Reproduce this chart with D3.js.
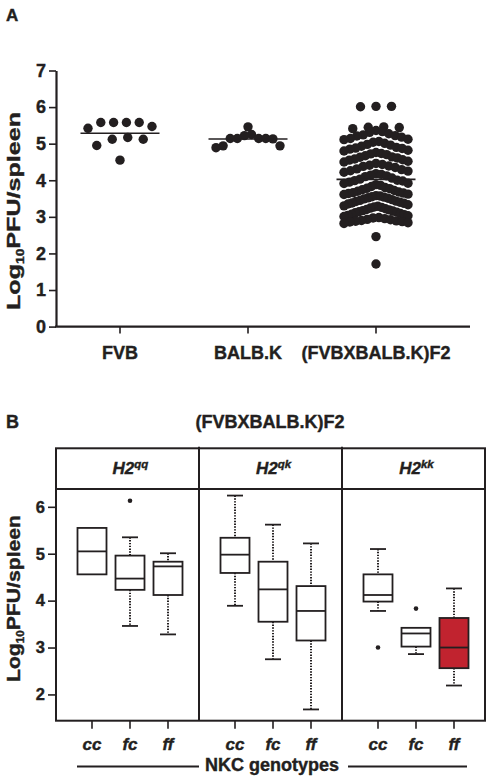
<!DOCTYPE html>
<html>
<head>
<meta charset="utf-8">
<script src="https://cdn.jsdelivr.net/npm/d3@7"></script>
<style>
  html, body { margin: 0; padding: 0; background: #fff; }
  svg { display: block; }
  text { font-family: "Liberation Sans", Arial, Helvetica, sans-serif; fill: #231f20; stroke: #231f20; stroke-width: 0.4px; }
</style>
</head>
<body>
<script>
// ---------------- Panel A data ----------------
const catsA = ["FVB", "BALB.K", "(FVBXBALB.K)F2"];
const yTicksA = [0, 1, 2, 3, 4, 5, 6, 7];
const fvb = [5.58, 5.58, 5.58, 5.58, 5.47, 5.42, 5.17, 5.12, 5.12, 4.95, 4.55];
const balbk = [5.46, 5.25, 5.22, 5.14, 5.14, 5.14, 5.14, 5.13, 4.94, 4.94, 4.89];
const f2 = [6.02, 6.01, 6.02,
  5.46, 5.44, 5.41, 5.45, 5.36, 5.31, 5.33, 5.27, 5.24, 5.21, 5.18, 5.22,
  5.14, 5.11, 5.12, 5.04, 5.01, 5.06, 4.98, 4.96, 4.93, 4.9, 4.87, 4.85,
  4.82, 4.88, 4.76, 4.8, 4.73, 4.7, 4.67, 4.72, 4.63, 4.61, 4.58, 4.64, 4.55,
  4.52, 4.5, 4.56, 4.46, 4.43, 4.41, 4.38, 4.35, 4.39, 4.31, 4.29, 4.26, 4.22, 4.25,
  4.18, 4.16, 4.12, 4.1, 4.14, 4.06, 4.03, 4.0, 3.98, 3.95, 3.99, 3.91, 3.88, 3.86,
  3.92, 3.83, 3.8, 3.77, 3.74, 3.78, 3.7, 3.68, 3.65, 3.61, 3.66, 3.58, 3.55, 3.52,
  3.49, 3.54, 3.45, 3.42, 3.4, 3.37, 3.43, 3.33, 3.3, 3.27, 3.24, 3.29, 3.2, 3.17,
  3.14, 3.11, 3.16, 3.07, 3.04, 3.01, 2.98, 3.03, 2.95, 2.92, 2.89, 2.86, 2.9, 2.84,
  2.82, 3.72, 3.57, 3.35, 3.22, 3.09, 2.97, 2.88, 3.47, 3.62, 2.93,
  3.13, 3.26, 3.38, 3.51, 3.64, 2.87, 3.06, 3.19, 2.46, 1.71];
const groupsA = [fvb, balbk, f2];

// ---------------- Panel B data ----------------
const facetsB = ["qq", "qk", "kk"];          // H2 haplotype superscripts
const genotypesB = ["cc", "fc", "ff"];       // NKC genotypes
const yTicksB = [2, 3, 4, 5, 6];
// order: qq-cc, qq-fc, qq-ff, qk-cc, qk-fc, qk-ff, kk-cc, kk-fc, kk-ff
const whiskLo = [4.56, 3.46, 3.28, 3.89, 2.75, 1.68, 3.78, 2.86, 2.19];
const q1      = [4.56, 4.23, 4.12, 4.59, 3.55, 3.15, 3.98, 3.02, 2.56];
const med     = [5.05, 4.47, 4.73, 4.98, 4.24, 3.78, 4.12, 3.30, 3.00];
const q3      = [5.55, 4.96, 4.83, 5.34, 4.83, 4.31, 4.56, 3.42, 3.63];
const whiskHi = [5.55, 5.35, 5.01, 6.24, 5.62, 5.22, 5.10, 3.42, 4.26];
const outliers = [[], [6.13], [], [], [], [], [3.00], [3.83], []];

// ---------------- drawing ----------------
(function () {
const W = 490, H = 779;
const ink = "#231f20";
const svg = d3.select("body").append("svg").attr("width", W).attr("height", H);

function yTitle(x, cy, target, size) {
  const g = svg.append("g");
  const t = g.append("text").attr("text-anchor", "middle")
    .style("font-size", size + "px").style("font-weight", "bold");
  t.append("tspan").text("Log");
  t.append("tspan").text("10").attr("dy", 4).style("font-size", (size * 0.55) + "px");
  t.append("tspan").text("PFU/spleen").attr("dy", -4);
  const len = t.node().getComputedTextLength();
  g.attr("transform", `translate(${x},${cy}) rotate(-90) scale(${target / len},1)`);
}

// ===== Panel A =====
svg.append("text").attr("x", 6).attr("y", 20.5).text("A")
  .style("font-size", "17px").style("font-weight", "bold");

const yA = d3.scaleLinear().domain([0, 7]).range([326.6, 70.5]);
const xA = d3.scaleBand().domain(catsA).range([56, 440]);
const cA = c => xA(c) + xA.bandwidth() / 2;

const gyA = svg.append("g").attr("transform", "translate(56,0)")
  .call(d3.axisLeft(yA).tickValues(yTicksA).tickFormat(d3.format("d"))
    .tickSize(7).tickSizeOuter(0).tickPadding(3));
gyA.select(".domain").attr("stroke", ink).attr("stroke-width", 2.2);
gyA.selectAll(".tick line").attr("stroke", ink).attr("stroke-width", 1.6);
gyA.selectAll(".tick text").attr("fill", ink).style("font-size", "18px")
  .style("font-weight", "bold").style("font-family", "Liberation Sans, Arial, sans-serif");

const gxA = svg.append("g").attr("transform", "translate(0,326.6)")
  .call(d3.axisBottom(xA).tickSize(7).tickSizeOuter(0).tickPadding(13));
gxA.select(".domain").remove();
gxA.selectAll(".tick line").attr("stroke", ink).attr("stroke-width", 1.6);
gxA.selectAll(".tick text").attr("fill", ink).style("font-size", "18px")
  .style("font-weight", "bold").style("font-family", "Liberation Sans, Arial, sans-serif");
svg.append("line").attr("x1", 55).attr("x2", 470).attr("y1", 326.6).attr("y2", 326.6)
  .attr("stroke", ink).attr("stroke-width", 2.2);

yTitle(20, 211, 198, 19);

// Prism-like scatter layout: bin by value, sort bin descending, place centre-out
function swarm(values, binH, s0, maxW) {
  const bins = d3.group(values, v => Math.floor(v / binH + 1e-9));
  const out = [];
  for (const [, arr] of bins) {
    const s = arr.slice().sort((a, b) => b - a);
    const n = s.length;
    const sp = n > 1 ? Math.min(s0, maxW / (n - 1)) : 0;
    s.forEach((v, i) => {
      let off;
      if (n % 2 === 0) off = (i % 2 === 0 ? 1 : -1) * (Math.floor(i / 2) + 0.5) * sp;
      else off = i === 0 ? 0 : (i % 2 === 1 ? 1 : -1) * Math.ceil(i / 2) * sp;
      out.push({ v, dx: off });
    });
  }
  return out;
}

const binHeights = [0.6, 0.6, 0.3];
groupsA.forEach((vals, gi) => {
  const cx = cA(catsA[gi]);
  const pts = swarm(vals, binHeights[gi], 15.5, 64);
  svg.append("g").selectAll("circle").data(pts).join("circle")
    .attr("cx", d => cx + d.dx).attr("cy", d => yA(d.v)).attr("r", 4.7).attr("fill", ink);
  const m = d3.mean(vals);
  svg.append("line").attr("x1", cx - 39.5).attr("x2", cx + 39.5)
    .attr("y1", yA(m)).attr("y2", yA(m)).attr("stroke", ink).attr("stroke-width", 1.6);
});

// ===== Panel B =====
svg.append("text").attr("x", 6).attr("y", 427.5).text("B")
  .style("font-size", "18px").style("font-weight", "bold");
svg.append("text").attr("x", 270).attr("y", 427.5).attr("text-anchor", "middle")
  .text("(FVBXBALB.K)F2").style("font-size", "18px").style("font-weight", "bold");

const pTop = 448.3, stripBot = 489, pBot = 720.7, pLeft = 56, pRight = 485;
const xF = d3.scaleBand().domain(facetsB).range([pLeft, pRight]);
const xG = d3.scalePoint().domain(genotypesB).range([36, 112]);
const yB = d3.scaleLinear().domain([1.44, 6.38]).range([pBot, stripBot]);

const gyB = svg.append("g").attr("transform", `translate(${pLeft},0)`)
  .call(d3.axisLeft(yB).tickValues(yTicksB).tickFormat(d3.format("d"))
    .tickSize(8).tickSizeOuter(0).tickPadding(3));
gyB.select(".domain").remove();
gyB.selectAll(".tick line").attr("stroke", ink).attr("stroke-width", 1.6);
gyB.selectAll(".tick text").attr("fill", ink).style("font-size", "16.5px")
  .style("font-weight", "bold").style("font-family", "Liberation Sans, Arial, sans-serif");

yTitle(20, 598.5, 167, 19);

svg.append("rect").attr("x", pLeft).attr("y", pTop).attr("width", pRight - pLeft)
  .attr("height", pBot - pTop).attr("fill", "none").attr("stroke", ink).attr("stroke-width", 2);
svg.append("line").attr("x1", pLeft).attr("x2", pRight).attr("y1", stripBot).attr("y2", stripBot)
  .attr("stroke", ink).attr("stroke-width", 1.8);
facetsB.slice(1).forEach(f => {
  svg.append("line").attr("x1", xF(f)).attr("x2", xF(f)).attr("y1", pTop - 1.5).attr("y2", pBot)
    .attr("stroke", ink).attr("stroke-width", 2);
});

facetsB.forEach(f => {
  const t = svg.append("text").attr("x", xF(f) + xF.bandwidth() / 2 + 3).attr("y", 474)
    .attr("text-anchor", "middle").style("font-size", "17px")
    .style("font-weight", "bold").style("font-style", "italic");
  t.append("tspan").text("H2");
  t.append("tspan").text(f).attr("dy", -6).style("font-size", "11.5px");
});

const bw = 29, capW = 16;
facetsB.forEach((f, i) => {
  genotypesB.forEach((g, j) => {
    const k = i * 3 + j;
    const cx = xF(f) + xG(g);
    const gg = svg.append("g");
    const fill = (f === "kk" && g === "ff") ? "#c1232f" : "#fff";
    if (whiskHi[k] > q3[k]) {
      gg.append("line").attr("x1", cx).attr("x2", cx).attr("y1", yB(whiskHi[k])).attr("y2", yB(q3[k]))
        .attr("stroke", ink).attr("stroke-width", 2).attr("stroke-dasharray", "1.4,1.4");
      gg.append("line").attr("x1", cx - capW / 2).attr("x2", cx + capW / 2)
        .attr("y1", yB(whiskHi[k])).attr("y2", yB(whiskHi[k])).attr("stroke", ink).attr("stroke-width", 1.8);
    }
    if (whiskLo[k] < q1[k]) {
      gg.append("line").attr("x1", cx).attr("x2", cx).attr("y1", yB(q1[k])).attr("y2", yB(whiskLo[k]))
        .attr("stroke", ink).attr("stroke-width", 2).attr("stroke-dasharray", "1.4,1.4");
      gg.append("line").attr("x1", cx - capW / 2).attr("x2", cx + capW / 2)
        .attr("y1", yB(whiskLo[k])).attr("y2", yB(whiskLo[k])).attr("stroke", ink).attr("stroke-width", 1.8);
    }
    gg.append("rect").attr("x", cx - bw / 2).attr("y", yB(q3[k])).attr("width", bw)
      .attr("height", yB(q1[k]) - yB(q3[k])).attr("fill", fill).attr("stroke", ink).attr("stroke-width", 1.8);
    gg.append("line").attr("x1", cx - bw / 2).attr("x2", cx + bw / 2)
      .attr("y1", yB(med[k])).attr("y2", yB(med[k])).attr("stroke", ink).attr("stroke-width", 1.8);
    gg.selectAll("circle").data(outliers[k]).join("circle")
      .attr("cx", cx).attr("cy", d => yB(d)).attr("r", 2.3).attr("fill", ink);
    svg.append("line").attr("x1", cx).attr("x2", cx).attr("y1", pBot).attr("y2", pBot + 8)
      .attr("stroke", ink).attr("stroke-width", 1.6);
    svg.append("text").attr("x", cx).attr("y", 750).attr("text-anchor", "middle").text(g)
      .style("font-size", "17px").style("font-weight", "bold").style("font-style", "italic");
  });
});

const nkc = svg.append("text").attr("x", 272).attr("y", 771).attr("text-anchor", "middle")
  .text("NKC genotypes").style("font-size", "18px").style("font-weight", "bold");
const bb = nkc.node().getBBox();
svg.append("line").attr("x1", 77).attr("x2", bb.x - 6).attr("y1", 766.5).attr("y2", 766.5)
  .attr("stroke", ink).attr("stroke-width", 2);
svg.append("line").attr("x1", bb.x + bb.width + 9).attr("x2", 467).attr("y1", 766.5).attr("y2", 766.5)
  .attr("stroke", ink).attr("stroke-width", 2);
})();
</script>
</body>
</html>
